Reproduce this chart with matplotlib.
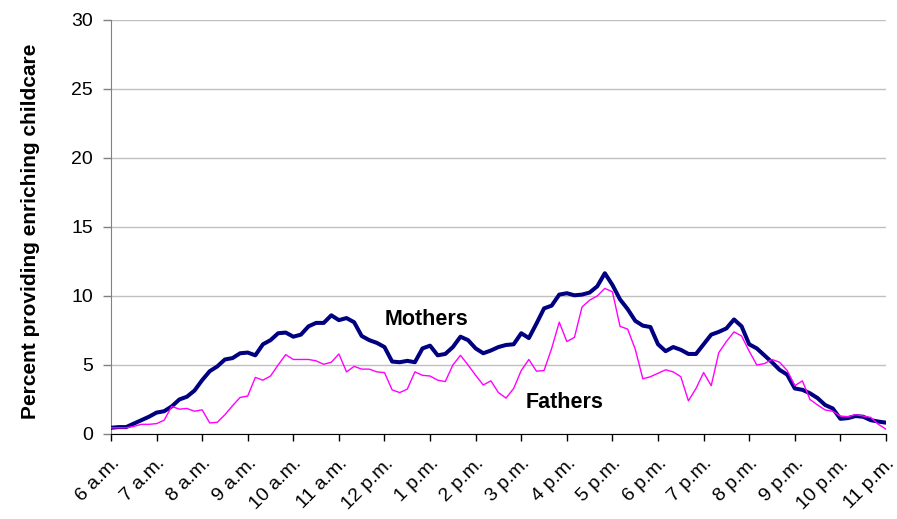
import numpy as np
import matplotlib
matplotlib.use('Agg')
import matplotlib.pyplot as plt

plt.rcParams['font.family'] = ['Liberation Sans', 'DejaVu Sans']

# share of parents providing enriching childcare, 10-minute steps from 6 a.m. to 11 p.m.
mothers = [
    0.45, 0.5, 0.5, 0.75, 1.0, 1.25, 1.55, 1.65, 2.0, 2.5, 2.7, 3.15,
    3.9, 4.55, 4.9, 5.4, 5.5, 5.85, 5.9, 5.7, 6.5, 6.8, 7.3, 7.35,
    7.05, 7.2, 7.8, 8.05, 8.05, 8.6, 8.25, 8.4, 8.1, 7.1, 6.8, 6.6,
    6.3, 5.25, 5.2, 5.3, 5.2, 6.2, 6.4, 5.7, 5.8, 6.3, 7.05, 6.8,
    6.2, 5.85, 6.05, 6.3, 6.45, 6.5, 7.3, 6.95, 8.0, 9.1, 9.3, 10.1,
    10.2, 10.05, 10.1, 10.25, 10.7, 11.65, 10.8, 9.75, 9.05, 8.2, 7.85, 7.75,
    6.5, 6.0, 6.3, 6.1, 5.8, 5.8, 6.5, 7.2, 7.4, 7.65, 8.3, 7.8,
    6.5, 6.2, 5.7, 5.2, 4.65, 4.3, 3.3, 3.2, 2.95, 2.6, 2.1, 1.85,
    1.1, 1.15, 1.3, 1.25, 1.0, 0.9, 0.82,
]
fathers = [
    0.45, 0.45, 0.45, 0.55, 0.7, 0.7, 0.75, 1.0, 2.0, 1.8, 1.85, 1.65,
    1.75, 0.8, 0.85, 1.4, 2.05, 2.65, 2.75, 4.1, 3.9, 4.2, 5.0, 5.75,
    5.4, 5.4, 5.4, 5.3, 5.05, 5.2, 5.8, 4.5, 4.9, 4.7, 4.7, 4.5,
    4.45, 3.2, 3.0, 3.25, 4.5, 4.25, 4.2, 3.9, 3.8, 5.0, 5.7, 5.0,
    4.25, 3.55, 3.85, 3.0, 2.6, 3.3, 4.6, 5.4, 4.55, 4.6, 6.2, 8.1,
    6.7, 7.0, 9.2, 9.7, 10.0, 10.55, 10.3, 7.8, 7.6, 6.15, 4.0, 4.15,
    4.4, 4.65, 4.5, 4.15, 2.4, 3.3, 4.45, 3.5, 5.9, 6.7, 7.4, 7.1,
    6.0, 5.0, 5.1, 5.4, 5.2, 4.6, 3.5, 3.85, 2.5, 2.1, 1.74, 1.65,
    1.3, 1.25, 1.4, 1.3, 1.2, 0.7, 0.35,
]
hour_labels = ['6 a.m.', '7 a.m.', '8 a.m.', '9 a.m.', '10 a.m.', '11 a.m.',
               '12 p.m.', '1 p.m.', '2 p.m.', '3 p.m.', '4 p.m.', '5 p.m.',
               '6 p.m.', '7 p.m.', '8 p.m.', '9 p.m.', '10 p.m.', '11 p.m.']

hours = 6 + np.arange(len(mothers)) / 6.0

fig = plt.figure(figsize=(8.97, 5.19), dpi=100)
ax = fig.add_axes([0.1237, 0.1638, 0.864, 0.7977])

ax.plot(hours, mothers, color='#000080', linewidth=2.9, solid_joinstyle='round', zorder=3)
ax.plot(hours, fathers, color='#ff00ff', linewidth=1.0, zorder=4)

ax.text(12.0, 8.3, 'Mothers', fontsize=15.5, fontweight='bold', va='center', ha='left')
ax.text(15.1, 2.3, 'Fathers', fontsize=15.5, fontweight='bold', va='center', ha='left')

ax.set_xlim(6, 23)
ax.set_ylim(0, 30)
ax.set_yticks(range(0, 31, 5))
ax.set_xticks(range(6, 24))
ax.set_xticklabels(hour_labels, rotation=45, ha='right', rotation_mode='anchor')
ax.tick_params(axis='y', labelsize=14, length=6, width=1, color='#808080', pad=7)
ax.tick_params(axis='x', labelsize=14, length=5, width=1, color='black', pad=10)

ax.grid(axis='y', color='#c0c0c0', linewidth=1)
ax.set_axisbelow(True)
for side in ['top', 'right']:
    ax.spines[side].set_visible(False)
ax.spines['left'].set_color('#808080')
ax.spines['bottom'].set_color('black')

ax.set_ylabel('Percent providing enriching childcare', fontsize=15, fontweight='bold')
ax.yaxis.set_label_coords(-0.0916, 0.49)

fig.savefig('out.png', dpi=100)
